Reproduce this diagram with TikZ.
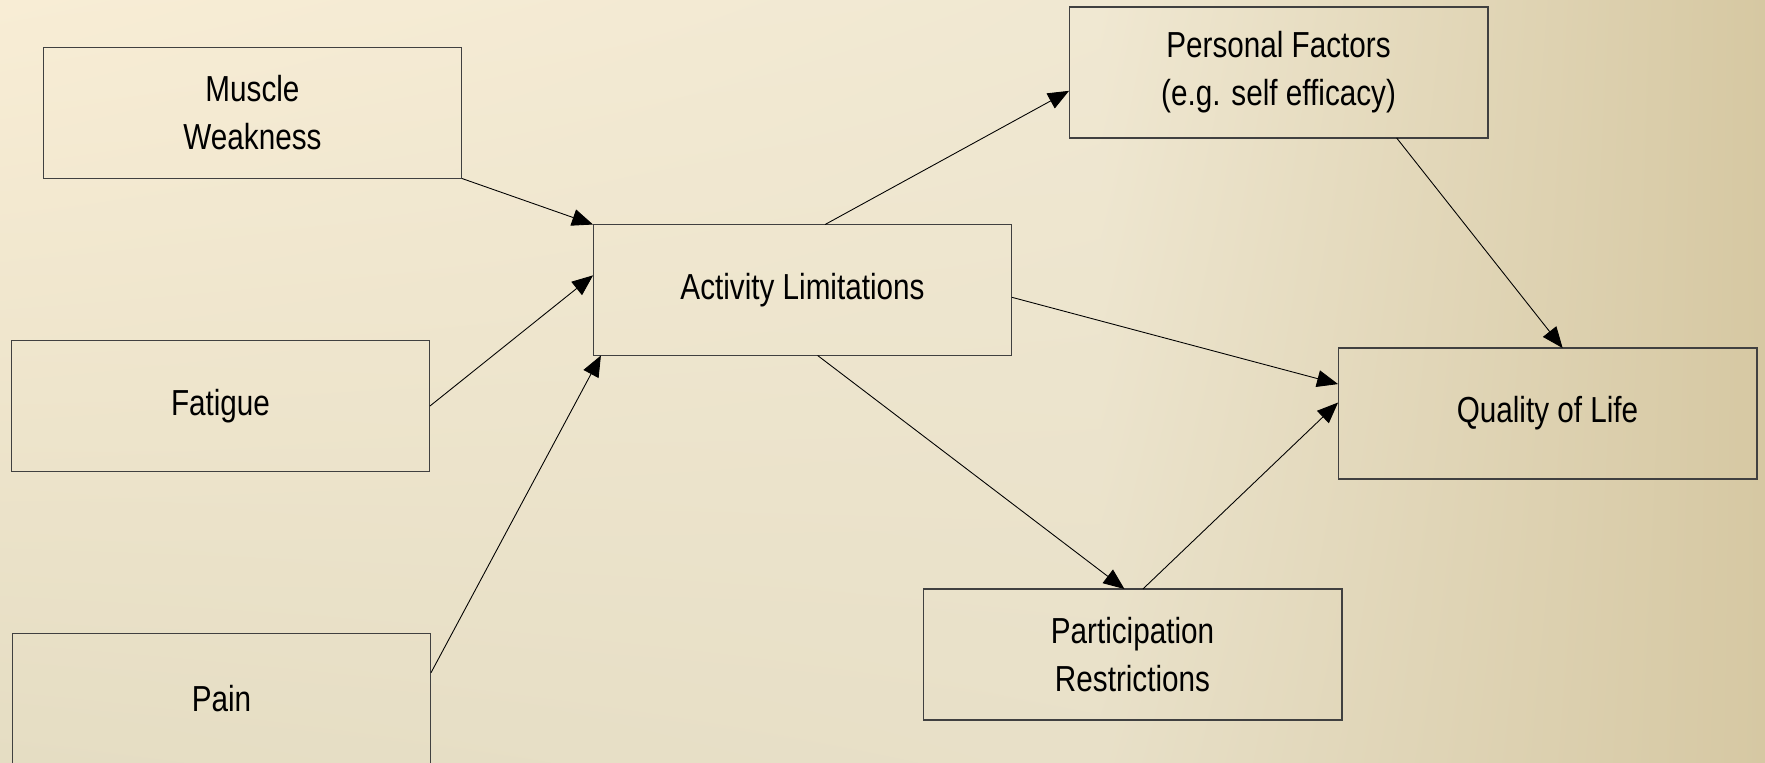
\documentclass[tikz,border=0pt]{standalone}
\usepackage{fontspec}
\setmainfont[FakeStretch=0.82]{Liberation Sans}
\usetikzlibrary{arrows.meta,shadings}

\definecolor{bgA}{RGB}{248,237,213}
\definecolor{bgB}{RGB}{240,232,210}
\definecolor{bgC}{RGB}{214,200,162}
\definecolor{bgD}{RGB}{229,221,195}
\definecolor{bgE}{RGB}{232,224,200}
\definecolor{bgF}{RGB}{214,200,163}

\tikzset{
  box/.style={draw=black!75, line width=0.6pt, rectangle, outer sep=0pt,
    minimum width=8.38cm, minimum height=2.62cm, align=center,
    font=\fontsize{20.6}{27.3}\selectfont},
  arr/.style={-{Triangle[length=0.42cm,width=0.34cm]}, line width=0.5pt}
}

\begin{document}
\begin{tikzpicture}[x=0.02cm,y=-0.02cm]
\useasboundingbox (0,0) rectangle (1765,762);
\shade[upper left=bgA, upper right=bgB, lower left=bgD, lower right=bgE] (0,0) rectangle (1100,762);
\shade[upper left=bgB, upper right=bgC, lower left=bgE, lower right=bgF] (1100,0) rectangle (1765,762);

\node[box] (mw) at (252.5,113) {Muscle\\Weakness};
\node[box] (fat) at (220.5,406) {Fatigue};
\node[box] (pain) at (221.5,698.5) {Pain};
\node[box] (al) at (802.5,290) {Activity Limitations};
\node[box] (pf) at (1278.5,72.5) {Personal Factors\\(e.g. self efficacy)};
\node[box] (qol) at (1547.5,413.5) {Quality of Life};
\node[box] (pr) at (1132.5,654.5) {Participation\\Restrictions};

\draw[arr] (mw.south east) -- (al.north west);
\draw[arr] (fat.east) -- (al.176);
\draw[arr] (pain.7) -- (al.198);
\draw[arr] (al.71) -- (pf.185);
\draw[arr] (al.-2) -- (qol.172);
\draw[arr] (al.283) -- (pr.97);
\draw[arr] (pr.81) -- (qol.177);
\draw[arr] (pf.-29) -- (qol.77);
\end{tikzpicture}
\end{document}
